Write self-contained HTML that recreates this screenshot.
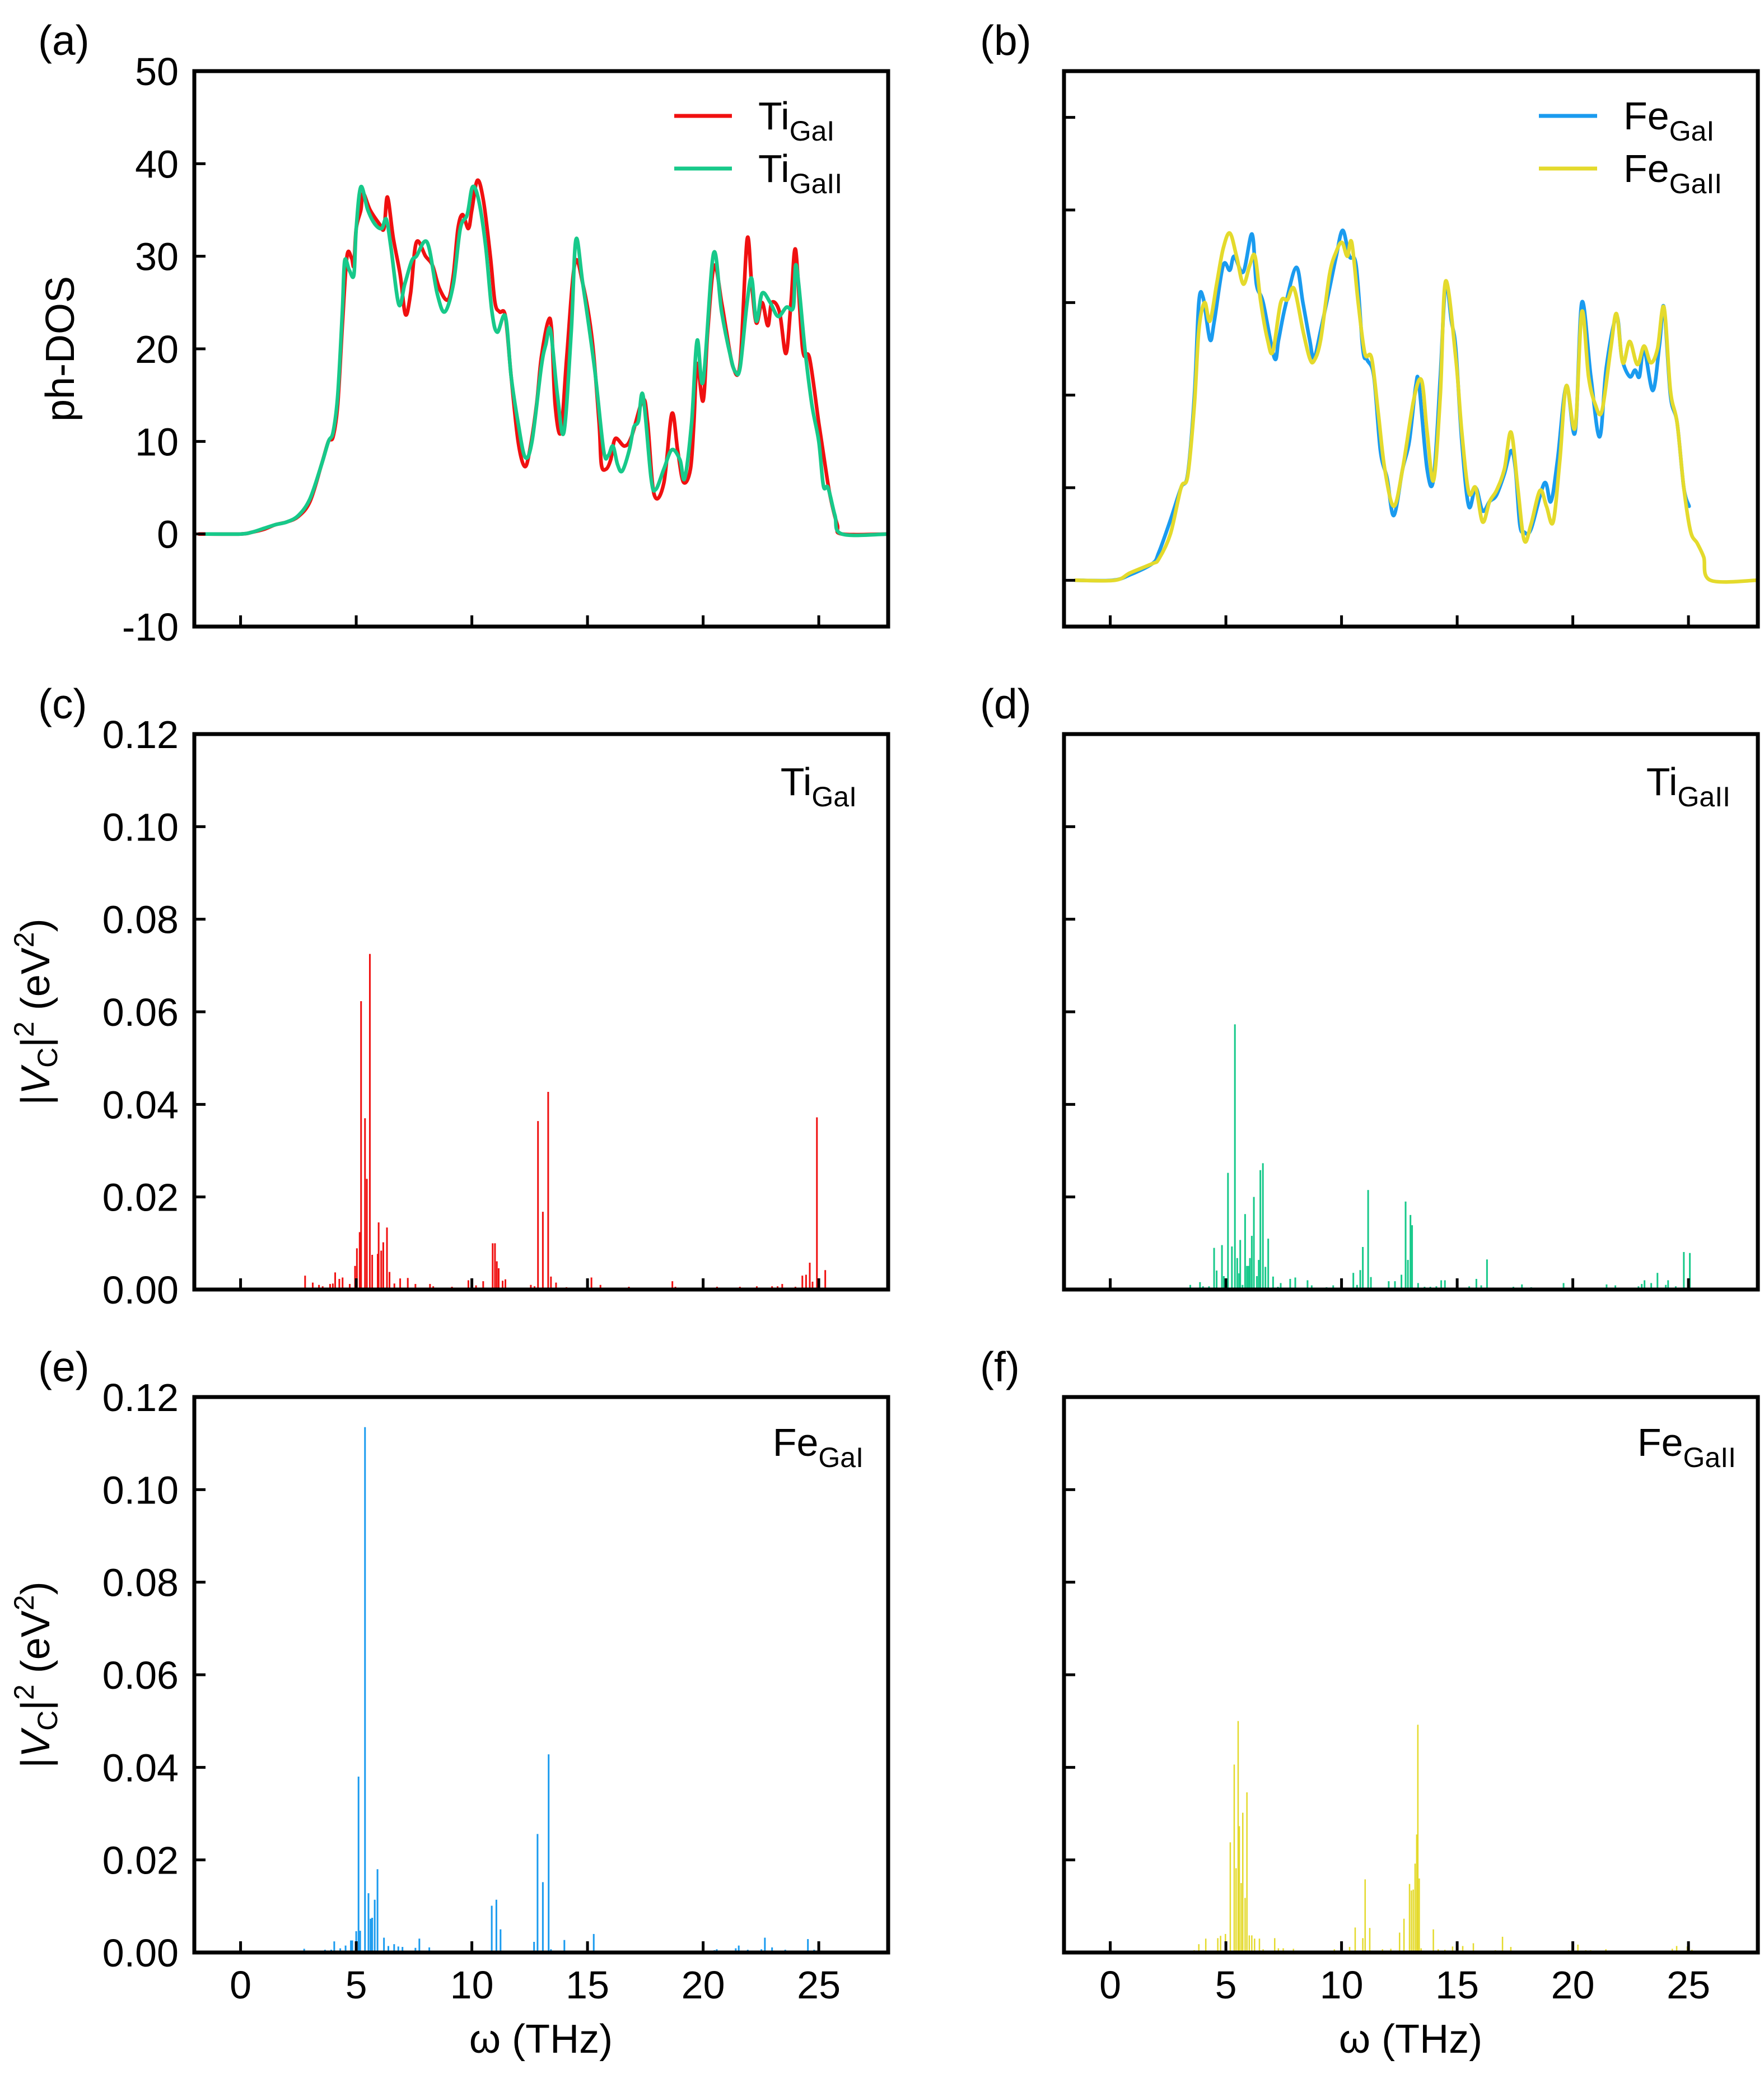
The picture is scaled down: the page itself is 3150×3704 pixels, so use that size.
<!DOCTYPE html>
<html><head><meta charset="utf-8">
<style>
html,body{margin:0;padding:0;background:#fff;}
svg{display:block;font-family:"Liberation Sans",Arial,sans-serif;}
</style></head>
<body>
<svg id="fig" xmlns="http://www.w3.org/2000/svg" width="3150" height="3704" viewBox="0 0 3150 3704">
<rect width="3150" height="3704" fill="#fff"/>
<g id="marks"></g>
<g id="axes"></g>
<g font-size="75" fill="#000">
<text x="68" y="98">(a)</text>
<text x="1750" y="98">(b)</text>
<text x="68" y="1283">(c)</text>
<text x="1750" y="1283">(d)</text>
<text x="68" y="2467">(e)</text>
<text x="1750" y="2467">(f)</text>
</g>
<text font-size="72" text-anchor="middle" transform="translate(132,623) rotate(-90)">ph-DOS</text>
<text font-size="72" text-anchor="middle" transform="translate(88,1807) rotate(-90)">|<tspan font-style="italic">V</tspan><tspan font-size="50" dy="14">C</tspan><tspan dy="-14">|</tspan><tspan font-size="50" dy="-28">2</tspan><tspan dy="28"> (eV</tspan><tspan font-size="50" dy="-28">2</tspan><tspan dy="28">)</tspan></text>
<text font-size="72" text-anchor="middle" transform="translate(88,2991) rotate(-90)">|<tspan font-style="italic">V</tspan><tspan font-size="50" dy="14">C</tspan><tspan dy="-14">|</tspan><tspan font-size="50" dy="-28">2</tspan><tspan dy="28"> (eV</tspan><tspan font-size="50" dy="-28">2</tspan><tspan dy="28">)</tspan></text>
<text font-size="72" text-anchor="middle" x="966" y="3666">ω (THz)</text>
<text font-size="72" text-anchor="middle" x="2519" y="3666">ω (THz)</text>
<g font-size="70">
<g><line x1="1204" y1="207" x2="1307" y2="207" stroke="#f01010" stroke-width="7"/><text x="1354" y="231">Ti<tspan font-size="50" dy="20">GaI</tspan></text></g>
<g><line x1="1204" y1="301" x2="1307" y2="301" stroke="#17c98a" stroke-width="7"/><text x="1354" y="325">Ti<tspan font-size="50" dy="20">GaII</tspan></text></g>
<g><line x1="2748" y1="207" x2="2852" y2="207" stroke="#1a9bef" stroke-width="7"/><text x="2899" y="231">Fe<tspan font-size="50" dy="20">GaI</tspan></text></g>
<g><line x1="2748" y1="301" x2="2852" y2="301" stroke="#e4da2c" stroke-width="7"/><text x="2899" y="325">Fe<tspan font-size="50" dy="20">GaII</tspan></text></g>
<text x="1530" y="1420" text-anchor="end">Ti<tspan font-size="50" dy="20">GaI</tspan></text>
<text x="3090" y="1420" text-anchor="end">Ti<tspan font-size="50" dy="20">GaII</tspan></text>
<text x="1542" y="2600" text-anchor="end">Fe<tspan font-size="50" dy="20">GaI</tspan></text>
<text x="3100" y="2600" text-anchor="end">Fe<tspan font-size="50" dy="20">GaII</tspan></text>
</g>
</svg>
<script>
// ---- data ----
const xTicks = [0, 5, 10, 15, 20, 25];
const dosTicksA = [-10, 0, 10, 20, 30, 40, 50];
const dosTicksB = [0, 10, 20, 30, 40, 50];
const vcTicks = [0, 0.02, 0.04, 0.06, 0.08, 0.10, 0.12];
const dosTiGaI = [[-1.8,0],[0,0],[0.5,0.2],[1,0.5],[1.5,1],[2,1.3],[2.5,1.9],[3,3.5],[3.5,7.5],[3.8,10],[4.0,10.5],[4.2,14],[4.4,22.5],[4.6,30],[4.8,29.8],[4.9,29],[5.0,33],[5.2,35],[5.3,36.8],[5.6,35],[6.0,33.5],[6.2,33],[6.35,36.4],[6.6,32],[6.9,28],[7.13,23.7],[7.35,26],[7.6,31.5],[8.0,30],[8.3,29],[8.6,26.5],[8.97,25.3],[9.2,28],[9.4,33],[9.6,34.5],[9.85,33],[10.0,35],[10.24,38.2],[10.5,36],[10.8,30],[11.0,25],[11.2,24],[11.45,23.5],[11.7,17],[12.0,10],[12.28,7.3],[12.5,9],[12.8,14],[13.0,19],[13.3,23],[13.45,22],[13.6,14],[13.85,11],[14.1,19],[14.45,29.2],[14.8,27],[15.2,21],[15.5,12],[15.6,7.5],[15.8,7],[16.0,8],[16.2,10.3],[16.6,9.5],[16.9,10.5],[17.4,14.5],[17.6,12],[17.88,4.3],[18.3,5.5],[18.65,13],[18.9,9],[19.15,5.6],[19.45,7],[19.6,12],[19.74,18.4],[20.0,14.4],[20.2,22],[20.48,29],[20.8,25],[21.0,22],[21.3,18],[21.6,18.5],[21.9,31.8],[22.1,27],[22.3,22.8],[22.55,25],[22.8,22.5],[22.97,25],[23.3,24],[23.58,19.5],[23.8,25],[24.0,30.7],[24.3,20],[24.6,19],[25.0,12],[25.3,7],[25.5,4],[25.8,1],[26.0,0],[28,0]];
const dosTiGaII = [[-1.5,0],[0,0],[0.5,0.2],[1,0.6],[1.5,1],[2,1.3],[2.5,2],[3,3.8],[3.5,7.5],[3.8,10],[4.0,11],[4.2,15],[4.4,24],[4.5,29.5],[4.7,28.5],[4.9,28],[5.0,33],[5.2,37.5],[5.5,35],[5.8,33.5],[6.1,33],[6.3,34],[6.5,31],[6.84,24.8],[7.1,27],[7.4,29.5],[7.6,30],[8.07,31.5],[8.5,26],[8.83,24],[9.2,27],[9.5,33],[9.8,34.5],[10.03,37.5],[10.3,36],[10.6,31],[10.87,24],[11.1,21.8],[11.45,23.5],[11.7,17],[12.0,12],[12.3,8.3],[12.6,10],[13.0,18],[13.2,20.5],[13.4,22],[13.7,15],[13.98,11],[14.3,22],[14.5,31.8],[14.8,27],[15.3,18],[15.7,9],[15.9,8.5],[16.1,9.5],[16.3,7.5],[16.5,6.8],[16.8,9],[17.0,11.5],[17.2,12.2],[17.4,15],[17.75,6],[17.95,4.8],[18.3,7],[18.65,9.1],[19.0,8],[19.2,6],[19.5,12],[19.74,20.9],[20.0,16.5],[20.45,30.3],[20.8,24],[21.2,19],[21.4,17.5],[21.6,18],[21.9,25],[22.1,27.6],[22.3,23],[22.55,26],[22.9,25],[23.24,23.5],[23.6,24.5],[23.9,24.5],[24.03,29],[24.4,20],[24.7,14],[25.0,10],[25.2,5.2],[25.4,5],[25.7,2],[26.0,0],[28,0]];
const dosFeGaI = [[-1.5,0],[0.1,0],[0.86,0.6],[1.82,1.8],[2.1,3],[2.6,6.5],[3.06,10],[3.35,11.5],[3.64,20],[3.83,30],[4.02,30.5],[4.31,26],[4.5,28],[4.88,34],[5.17,33.5],[5.36,35],[5.75,33.3],[6.13,37.4],[6.32,32],[6.61,30],[7.1,24],[7.28,26],[7.56,29.5],[8.04,33.8],[8.33,30],[8.62,26],[8.81,24],[9.1,27],[9.48,31.5],[9.77,35],[10.05,37.8],[10.34,35],[10.63,34],[10.92,25],[11.11,23.8],[11.4,22],[11.68,14],[11.97,11],[12.26,7],[12.64,12],[12.93,15],[13.21,21],[13.35,21.1],[13.7,12],[13.98,11],[14.27,22],[14.5,32],[14.75,28],[14.94,25],[15.2,15],[15.5,8],[15.8,10],[16.1,7.5],[16.4,8.5],[16.7,9.2],[17.04,11.5],[17.33,14],[17.52,12],[17.71,6],[17.9,5.2],[18.19,5.5],[18.77,10.5],[19.05,8.5],[19.34,13],[19.72,21],[20.1,16],[20.39,30],[20.78,22],[21.16,15.5],[21.45,23],[21.89,28.5],[22.12,24],[22.46,22],[22.69,22.7],[22.88,22],[23.08,25],[23.46,20.5],[23.75,25.5],[23.94,29.5],[24.22,20],[24.51,17],[24.8,10],[25.03,8]];
const dosFeGaII = [[-1.5,0],[0.2,0],[0.86,0.8],[1.82,1.8],[2.1,2.3],[2.6,5],[3.06,10],[3.35,11.3],[3.64,19],[3.83,27],[4.08,30],[4.31,28],[4.6,32],[4.88,35.8],[5.17,37.5],[5.46,35],[5.75,32],[6.03,34],[6.26,35],[6.51,30],[6.8,26],[7.03,24.7],[7.37,30],[7.66,30.3],[7.95,31.5],[8.33,27],[8.62,24],[8.81,23.7],[9.1,26],[9.48,33],[9.77,35.5],[10.02,36.5],[10.25,35],[10.44,36.5],[10.72,30],[11.01,24.5],[11.3,24],[11.59,18],[11.87,12],[12.26,8],[12.64,12],[13.12,19.5],[13.46,21.6],[13.7,16],[13.98,10.8],[14.27,20],[14.5,32.3],[14.94,24],[15.2,16],[15.5,9.5],[15.8,10],[16.1,6.3],[16.4,8.5],[16.7,9.7],[17.04,12],[17.33,16],[17.62,10],[17.9,4.3],[18.19,6],[18.58,9.7],[18.86,8],[19.15,6.3],[19.44,13],[19.72,21],[20.1,16.5],[20.39,29],[20.68,22],[20.97,19],[21.26,18.3],[21.64,25],[21.89,28.8],[22.16,23.5],[22.46,25.8],[22.79,23.3],[23.08,25.3],[23.37,23.5],[23.66,25],[23.94,29.5],[24.22,20.5],[24.51,17],[24.8,10],[25.09,5.3],[25.38,4],[25.66,2.5],[25.95,0],[28,0]];
const vcTiGaI = [[2.79,.003],[3.12,.0015],[3.39,.001],[3.55,.0007],[3.87,.0012],[3.99,.0013],[4.09,.0037],[4.27,.0023],[4.41,.0026],[4.72,.0012],[4.95,.0051],[5.03,.0089],[5.15,.0124],[5.21,.0623],[5.38,.037],[5.46,.0239],[5.59,.0725],[5.69,.0075],[5.93,.0077],[5.97,.0145],[6.08,.0084],[6.17,.0102],[6.33,.0134],[6.44,.0038],[6.65,.0013],[6.9,.0024],[7.23,.0025],[7.56,.0012],[8.19,.0012],[8.33,.0007],[9.14,.0006],[9.85,.002],[10.18,.0009],[10.49,.0018],[10.9,.01],[11.0,.01],[11.08,.0061],[11.16,.0046],[11.33,.0019],[11.45,.0022],[12.55,.001],[12.71,.0007],[12.86,.0364],[13.07,.0168],[13.3,.0427],[13.42,.0028],[13.64,.0015],[14.09,.0005],[15.17,.0026],[15.56,.001],[16.79,.0006],[18.67,.0018],[18.8,.0006],[20.6,.0006],[21.59,.0006],[22.32,.0007],[22.98,.0007],[23.22,.0007],[23.42,.0012],[23.99,.0006],[24.29,.003],[24.45,.0032],[24.61,.0058],[24.73,.0017],[24.92,.0372],[25.28,.0042]];
const vcTiGaII = [[3.26,.0004],[3.46,.001],[3.59,.0004],[3.88,.0016],[4.01,.0007],[4.27,.0007],[4.49,.009],[4.6,.0041],[4.83,.0096],[4.91,.0029],[5.09,.0252],[5.26,.0093],[5.39,.0573],[5.49,.0068],[5.57,.0035],[5.62,.0107],[5.72,.001],[5.83,.0163],[5.91,.0051],[5.98,.0051],[6.04,.0068],[6.12,.0116],[6.21,.02],[6.34,.0029],[6.42,.0064],[6.49,.0258],[6.6,.0273],[6.71,.0049],[6.83,.011],[7.04,.0028],[7.25,.0006],[7.37,.0014],[7.55,.0004],[7.78,.0023],[8.0,.0026],[8.33,.0003],[8.53,.002],[8.71,.0009],[9.2,.0004],[9.35,.0005],[9.64,.0009],[10.35,.0003],[10.51,.0036],[10.67,.001],[10.81,.0042],[10.92,.0092],[11.15,.0215],[11.27,.0027],[11.85,.0002],[12.04,.0018],[12.31,.0018],[12.59,.0032],[12.77,.019],[12.87,.0064],[12.98,.0161],[13.05,.0139],[13.31,.0014],[13.59,.0006],[13.84,.0006],[14.1,.0007],[14.31,.002],[14.47,.002],[15.52,.0007],[15.83,.0023],[16.04,.0009],[16.29,.0065],[17.43,.0006],[17.8,.0011],[18.2,.0005],[19.0,.0004],[19.6,.0014],[20.42,.0004],[20.6,.0003],[21.0,.0004],[21.46,.0011],[21.84,.0009],[22.12,.0004],[22.3,.0003],[22.4,.0003],[22.84,.0007],[22.98,.0012],[23.1,.002],[23.39,.0014],[23.66,.0036],[23.86,.0004],[24.02,.001],[24.12,.002],[24.45,.0007],[24.8,.0081],[25.06,.0079],[25.46,.0004]];
const vcFeGaI = [[2.75,.0008],[3.65,.0006],[3.85,.0003],[3.92,.0006],[4.05,.0024],[4.31,.0009],[4.54,.0015],[4.77,.0026],[4.83,.0026],[5.0,.0046],[5.1,.038],[5.17,.0047],[5.38,.1135],[5.53,.0128],[5.62,.0073],[5.69,.0075],[5.8,.0114],[5.92,.018],[6.2,.0032],[6.39,.0014],[6.64,.0018],[6.82,.0013],[7.0,.0012],[7.3,.0004],[7.56,.001],[7.73,.003],[8.16,.0011],[8.62,.0003],[10.86,.0101],[11.06,.0114],[11.24,.005],[12.0,.0002],[12.69,.0023],[12.84,.0256],[13.07,.0152],[13.32,.0428],[13.42,.0007],[13.84,.0003],[14.0,.0027],[15.27,.004],[15.73,.0003],[20.49,.0005],[20.59,.0007],[21.41,.0009],[21.54,.0015],[21.7,.0004],[21.93,.0006],[22.52,.0007],[22.67,.0032],[22.98,.0011],[23.32,.0003],[23.55,.0006],[24.53,.0029],[24.8,.0006]];
const vcFeGaII = [[3.0,.0003],[3.63,.0005],[3.83,.0018],[4.13,.003],[4.24,.0003],[4.65,.0031],[4.77,.0036],[4.98,.004],[5.19,.0238],[5.36,.0406],[5.44,.0182],[5.53,.05],[5.58,.0273],[5.66,.015],[5.73,.0302],[5.83,.0118],[5.91,.0346],[6.01,.0037],[6.12,.0037],[6.24,.003],[6.45,.003],[6.61,.0007],[7.11,.0031],[7.27,.0009],[7.48,.0009],[7.92,.0008],[8.66,.0004],[9.07,.0003],[9.69,.0007],[10.35,.0012],[10.59,.0054],[10.92,.0031],[11.02,.0158],[11.22,.0053],[11.77,.0007],[12.13,.0008],[12.51,.0043],[12.7,.0073],[12.94,.0148],[13.02,.0134],[13.1,.0136],[13.18,.0192],[13.25,.0255],[13.3,.0492],[13.36,.016],[13.44,.0009],[13.97,.005],[14.18,.0007],[14.47,.0006],[14.8,.0013],[15.01,.0014],[15.24,.0014],[15.7,.002],[16.65,.0005],[16.96,.0034],[17.32,.0012],[18.45,.0003],[19.82,.0005],[20.22,.0017],[20.56,.0005],[20.77,.0005],[21.43,.0007],[24.3,.0008],[24.49,.0014],[24.95,.0013],[25.15,.0006]];

// ---- drawing ----
const NS = 'http://www.w3.org/2000/svg';
const marks = document.getElementById('marks');
const axes = document.getElementById('axes');
const W = 1239, H = 992;
function mk(tag, attrs, parent) {
  const e = document.createElementNS(NS, tag);
  for (const k in attrs) e.setAttribute(k, attrs[k]);
  parent.appendChild(e);
  return e;
}
function makeScales(px, py, y0, y1) {
  return {
    sx: v => px + (v - (-2)) / 30 * W,
    sy: v => py + H - (v - y0) / (y1 - y0) * H
  };
}
function drawAxes(name, px, py, y0, y1, yTicks, yLabels, xLabels, decimals) {
  const s = makeScales(px, py, y0, y1);
  const g = mk('g', {}, axes);
  
  
  xTicks.forEach(t => {
    const x = s.sx(t);
    const tk = mk('line', {x1: x, x2: x, y1: py + H, y2: py + H - 20, stroke: '#000', 'stroke-width': 5}, g);
    
    
    if (xLabels) {
      const tl = mk('text', {x: x, y: py + H + 82, 'font-size': 70, 'text-anchor': 'middle'}, g);
      tl.textContent = String(t);
      
      
    }
  });
  yTicks.forEach(t => {
    const y = s.sy(t);
    const tk = mk('line', {x1: px, x2: px + 20, y1: y, y2: y, stroke: '#000', 'stroke-width': 5}, g);
    
    
    if (yLabels) {
      const tl = mk('text', {x: px - 28, y: y + 25, 'font-size': 70, 'text-anchor': 'end'}, g);
      tl.textContent = t.toFixed(decimals);
      
      
    }
  });
  const fr = mk('rect', {x: px, y: py, width: W, height: H, fill: 'none', stroke: '#000', 'stroke-width': 7}, g);
  
  
  return s;
}
function drawLine(name, s, data, color) {
  const p = data.map(d => [s.sx(d[0]), s.sy(d[1])]);
  let dstr = 'M' + p[0][0].toFixed(1) + ',' + p[0][1].toFixed(1);
  for (let i = 0; i < p.length - 1; i++) {
    const p0 = p[Math.max(0, i - 1)], p1 = p[i], p2 = p[i + 1], p3 = p[Math.min(p.length - 1, i + 2)];
    const c1x = p1[0] + (p2[0] - p0[0]) / 6, c1y = p1[1] + (p2[1] - p0[1]) / 6;
    const c2x = p2[0] - (p3[0] - p1[0]) / 6, c2y = p2[1] - (p3[1] - p1[1]) / 6;
    dstr += ' C' + c1x.toFixed(1) + ',' + c1y.toFixed(1) + ' ' + c2x.toFixed(1) + ',' + c2y.toFixed(1) + ' ' + p2[0].toFixed(1) + ',' + p2[1].toFixed(1);
  }
  const l = mk('path', {d: dstr, fill: 'none', stroke: color, 'stroke-width': 6.5, 'stroke-linejoin': 'round', 'stroke-linecap': 'round'}, marks);
  
  
}
function drawBars(name, s, data, color, w) {
  const g = mk('g', {}, marks);
  
  
  data.forEach(d => {
    const x = s.sx(d[0]);
    const b = mk('line', {x1: x, x2: x, y1: s.sy(0), y2: s.sy(d[1]), stroke: color, 'stroke-width': w}, g);
    
    
  });
}
const L = 347, R = 1900, T1 = 127, T2 = 1311, T3 = 2495;
const sa = drawAxes('panel-a', L, T1, -10, 50, dosTicksA, true, false, 0);
const sb = drawAxes('panel-b', R, T1, -5, 55, dosTicksB, false, false, 0);
const sc = drawAxes('panel-c', L, T2, 0, 0.12, vcTicks, true, false, 2);
const sd = drawAxes('panel-d', R, T2, 0, 0.12, vcTicks, false, false, 2);
const se = drawAxes('panel-e', L, T3, 0, 0.12, vcTicks, true, true, 2);
const sf = drawAxes('panel-f', R, T3, 0, 0.12, vcTicks, false, true, 2);
drawLine('dos-ti-gai-line', sa, dosTiGaI, '#f01010');
drawLine('dos-ti-gaii-line', sa, dosTiGaII, '#17c98a');
drawLine('dos-fe-gai-line', sb, dosFeGaI, '#1a9bef');
drawLine('dos-fe-gaii-line', sb, dosFeGaII, '#e4da2c');
drawBars('vc-ti-gai-bars', sc, vcTiGaI, '#f01010', 3);
drawBars('vc-ti-gaii-bars', sd, vcTiGaII, '#17c98a', 3);
drawBars('vc-fe-gai-bars', se, vcFeGaI, '#1a9bef', 3);
drawBars('vc-fe-gaii-bars', sf, vcFeGaII, '#e4da2c', 2.5);
</script>
</body></html>
